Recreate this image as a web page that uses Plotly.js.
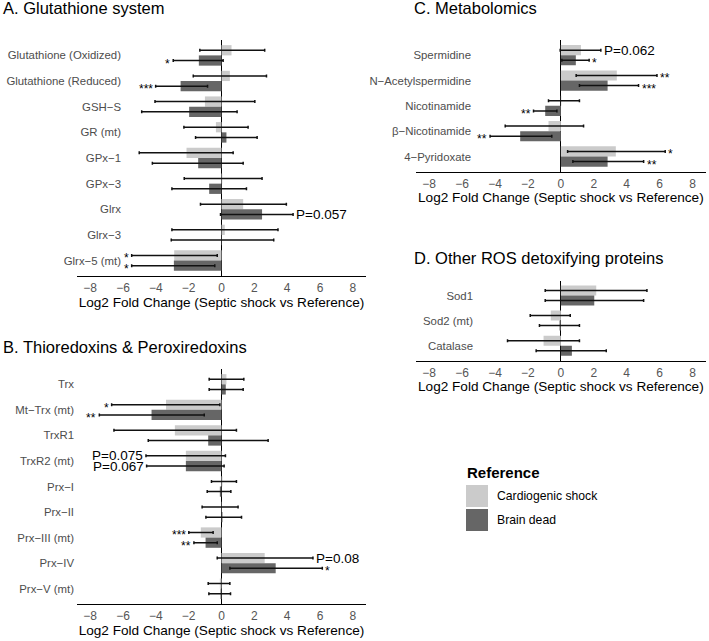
<!DOCTYPE html>
<html>
<head>
<meta charset="utf-8">
<script src="https://cdn.plot.ly/plotly-3.0.1.min.js"></script>
<style>html,body{margin:0;padding:0;background:#fff}#chart{width:709px;height:641px}</style>
</head>
<body>
<div id="chart"></div>
<script>
// ---------- Panel A: Glutathione system ----------
const catsA = ['Glutathione (Oxidized)', 'Glutathione (Reduced)', 'GSH−S', 'GR (mt)', 'GPx−1', 'GPx−3', 'Glrx', 'Glrx−3', 'Glrx−5 (mt)'];
const csA    = [0.61, 0.51, -1.01, -0.34, -2.13, 0.05, 1.32, 0.20, -2.88];
const csA_lo = [-1.32, -1.72, -4.05, -2.29, -5.01, -2.27, -1.28, -3.02, -5.47];
const csA_hi = [2.63, 2.74, 2.03, 1.62, 0.71, 2.47, 3.95, 3.44, -0.26];
const csA_sig = ['', '', '', '', '', '', '', '', '*'];
const bdA    = [-1.38, -2.49, -1.97, 0.30, -1.42, -0.75, 2.47, 0.03, -2.90];
const bdA_lo = [-2.94, -4.01, -4.86, -1.58, -4.21, -3.02, -0.06, -3.06, -5.47];
const bdA_hi = [0.10, -0.85, 0.95, 2.17, 1.32, 1.52, 4.36, 3.18, -0.41];
const bdA_sig = ['*', '***', '', '', '', '', 'P=0.057', '', '*'];

// ---------- Panel B: Thioredoxins & Peroxiredoxins ----------
const catsB = ['Trx', 'Mt−Trx (mt)', 'TrxR1', 'TrxR2 (mt)', 'Prx−I', 'Prx−II', 'Prx−III (mt)', 'Prx−IV', 'Prx−V (mt)'];
const csB    = [0.30, -3.38, -2.84, -2.17, 0.06, 0.02, -1.26, 2.63, -0.10];
const csB_lo = [-0.75, -6.69, -6.55, -4.60, -0.61, -1.18, -1.99, -0.26, -0.81];
const csB_hi = [1.36, -0.10, 0.91, 0.24, 0.91, 1.01, -0.51, 5.57, 0.51];
const csB_sig = ['', '*', '', 'P=0.075', '', '', '***', 'P=0.08', ''];
const bdB    = [0.26, -4.26, -0.81, -2.17, -0.10, 0.06, -0.97, 3.30, -0.06];
const bdB_lo = [-0.75, -7.44, -4.46, -4.56, -0.87, -0.95, -1.68, 0.51, -0.77];
const bdB_hi = [1.32, -1.05, 2.84, 0.16, 0.57, 1.22, -0.26, 6.14, 0.55];
const bdB_sig = ['', '**', '', 'P=0.067', '', '', '**', '*', ''];

// ---------- Panel C: Metabolomics ----------
const catsC = ['Spermidine', 'N−Acetylspermidine', 'Nicotinamide', 'β−Nicotinamide', '4−Pyridoxate'];
const csC    = [1.22, 3.40, 0.03, -0.75, 3.34];
const csC_lo = [-0.04, 0.93, -0.75, -3.38, 0.41];
const csC_hi = [2.43, 5.84, 1.13, 1.38, 6.34];
const csC_sig = ['P=0.062', '**', '', '', '*'];
const bdC    = [0.91, 2.84, -0.95, -2.47, 2.84];
const bdC_lo = [0.06, 1.13, -1.66, -4.30, 0.73];
const bdC_hi = [1.72, 4.72, -0.24, -0.55, 5.03];
const bdC_sig = ['*', '***', '**', '**', '**'];

// ---------- Panel D: Other ROS detoxifying proteins ----------
const catsD = ['Sod1', 'Sod2 (mt)', 'Catalase'];
const csD    = [2.15, -0.61, -1.05];
const csD_lo = [-0.95, -1.86, -3.24];
const csD_hi = [5.23, 0.57, 1.13];
const csD_sig = ['', '', ''];
const bdD    = [2.03, -0.08, 0.67];
const bdD_lo = [-0.95, -1.30, -1.50];
const bdD_hi = [5.03, 1.13, 2.76];
const bdD_sig = ['', '', ''];

const xTicks = [-8, -6, -4, -2, 0, 2, 4, 6, 8];
const seriesNames = ['Cardiogenic shock', 'Brain dead'];
const panelTitles = ['A. Glutathione system', 'B. Thioredoxins & Peroxiredoxins', 'C. Metabolomics', 'D. Other ROS detoxifying proteins'];
const xTitle = 'Log2 Fold Change (Septic shock vs Reference)';
const legendTitle = 'Reference';

// ---------- styling ----------
const FONT = 'Liberation Sans, Arial, Helvetica, sans-serif';
const COLORS = ['#cbcbcb', '#666666'];
const W = 709, H = 641;
const px = v => v / W;
const py = v => 1 - v / H;

const traces = [];
const annotations = [];

function addPanel(idx, cats, series) {
  const xa = idx === 0 ? 'x' : 'x' + (idx + 1);
  const ya = idx === 0 ? 'y' : 'y' + (idx + 1);
  series.forEach((s, k) => {
    traces.push({
      type: 'bar', orientation: 'h',
      name: seriesNames[k], showlegend: false,
      y: cats, x: s.v,
      xaxis: xa, yaxis: ya,
      offsetgroup: String(k),
      marker: {color: COLORS[k], line: {width: 0}},
      error_x: {
        type: 'data', symmetric: false,
        array: s.v.map((v, i) => s.hi[i] - v),
        arrayminus: s.v.map((v, i) => v - s.lo[i]),
        color: '#111', thickness: 1.5, width: 1.5
      },
      hoverinfo: 'x+y'
    });
    s.sig.forEach((t, i) => {
      if (!t) return;
      const neg = s.v[i] < 0;
      const isP = t.startsWith('P');
      annotations.push({
        xref: xa, yref: ya,
        x: neg ? s.lo[i] : s.hi[i],
        y: i + (k === 0 ? -0.2 : 0.2),
        text: t, showarrow: false,
        xanchor: neg ? 'right' : 'left', yanchor: 'middle',
        xshift: neg ? -2 : 2, yshift: isP ? 0 : -3,
        borderpad: 0,
        font: {family: FONT, size: isP ? 13.5 : 12, color: '#000'}
      });
    });
  });
}

const panels = [
  {cats: catsA, s: [{v: csA, lo: csA_lo, hi: csA_hi, sig: csA_sig}, {v: bdA, lo: bdA_lo, hi: bdA_hi, sig: bdA_sig}],
   xdom: [77, 366], ydom: [40, 276], ypos: 121, title: [1, 8]},
  {cats: catsB, s: [{v: csB, lo: csB_lo, hi: csB_hi, sig: csB_sig}, {v: bdB, lo: bdB_lo, hi: bdB_hi, sig: bdB_sig}],
   xdom: [77, 366], ydom: [369, 604], ypos: 74, title: [1, 347]},
  {cats: catsC, s: [{v: csC, lo: csC_lo, hi: csC_hi, sig: csC_sig}, {v: bdC, lo: bdC_lo, hi: bdC_hi, sig: bdC_sig}],
   xdom: [416, 705.7], ydom: [40, 171.7], ypos: 471, title: [412, 8]},
  {cats: catsD, s: [{v: csD, lo: csD_lo, hi: csD_hi, sig: csD_sig}, {v: bdD, lo: bdD_lo, hi: bdD_hi, sig: bdD_sig}],
   xdom: [416, 705.7], ydom: [280.5, 360.7], ypos: 473, title: [412, 258]}
];

const layout = {
  width: W, height: H,
  margin: {l: 0, r: 0, t: 0, b: 0},
  paper_bgcolor: '#fff', plot_bgcolor: 'rgba(0,0,0,0)',
  barmode: 'group', bargap: 0.2, bargroupgap: 0,
  showlegend: false,
  font: {family: FONT, color: '#000'},
  annotations: annotations,
  shapes: []
};

panels.forEach((p, idx) => {
  addPanel(idx, p.cats, p.s);
  const sfx = idx === 0 ? '' : String(idx + 1);
  const n = p.cats.length;
  layout['xaxis' + sfx] = {
    domain: [px(p.xdom[0]), px(p.xdom[1])],
    anchor: 'y' + sfx,
    range: [-8.8, 8.8],
    tickmode: 'array', tickvals: xTicks,
    ticks: '', showgrid: false,
    zeroline: true, zerolinecolor: '#000', zerolinewidth: 1.3,
    showline: true, linecolor: '#000', linewidth: 1.4,
    tickfont: {family: FONT, size: 12, color: '#555'},
    title: {text: xTitle, font: {family: FONT, size: 13.6, color: '#000'}, standoff: 2},
    fixedrange: true
  };
  layout['yaxis' + sfx] = {
    domain: [py(p.ydom[1]), py(p.ydom[0])],
    anchor: 'free', position: px(p.ypos),
    type: 'category', categoryorder: 'array', categoryarray: p.cats,
    range: [n - 1 + 0.6, -0.6],
    ticks: '', showgrid: false, zeroline: false, showline: false,
    tickfont: {family: FONT, size: 11.4, color: '#4d4d4d'},
    fixedrange: true
  };
  annotations.push({
    xref: 'paper', yref: 'paper', x: px(p.title[0]), y: py(p.title[1]),
    xanchor: 'left', yanchor: 'middle', showarrow: false,
    text: panelTitles[idx], font: {family: FONT, size: 16.5, color: '#000'}
  });
});

// legend (drawn with shapes + text)
annotations.push({
  xref: 'paper', yref: 'paper', x: px(465), y: py(472), xanchor: 'left', yanchor: 'middle',
  showarrow: false, text: '<b>' + legendTitle + '</b>', font: {family: FONT, size: 15, color: '#000'}
});
seriesNames.forEach((nm, k) => {
  const top = 485 + k * 24;
  layout.shapes.push({
    type: 'rect', xref: 'paper', yref: 'paper',
    x0: px(466), x1: px(488), y0: py(top + 22), y1: py(top),
    fillcolor: COLORS[k], line: {width: 0}
  });
  annotations.push({
    xref: 'paper', yref: 'paper', x: px(495), y: py(top + 11), xanchor: 'left', yanchor: 'middle',
    showarrow: false, text: nm, font: {family: FONT, size: 12.2, color: '#000'}
  });
});

Plotly.newPlot('chart', traces, layout, {displayModeBar: false, staticPlot: true});
</script>
</body>
</html>
